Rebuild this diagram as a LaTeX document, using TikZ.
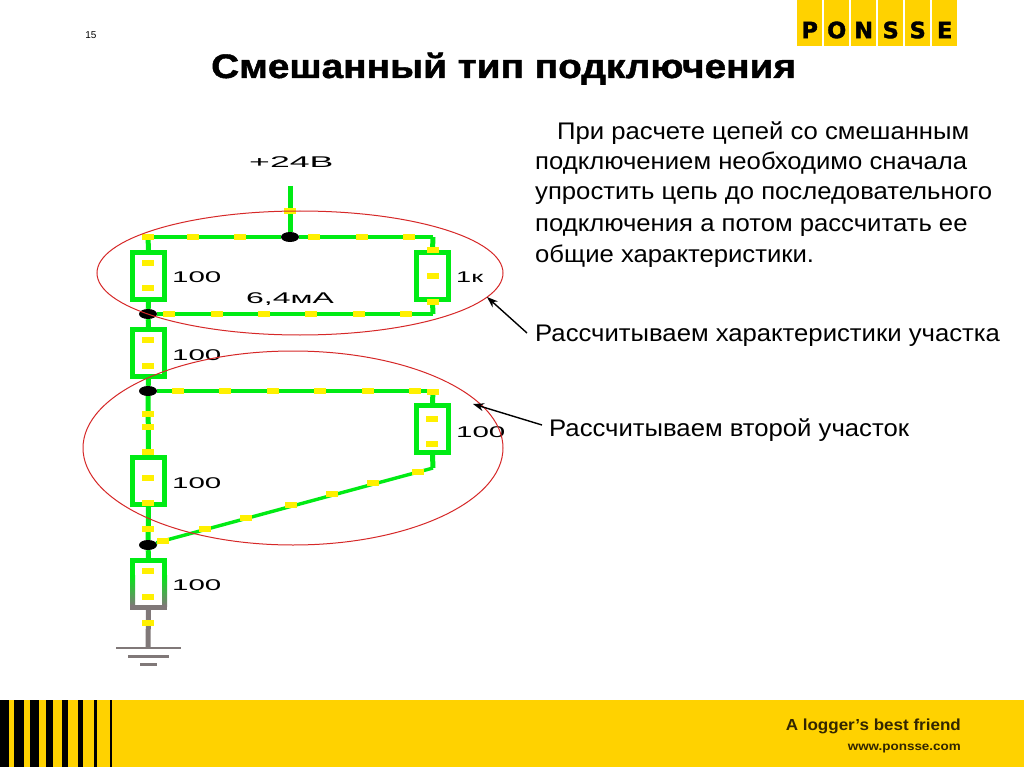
\documentclass[tikz,border=0pt]{standalone}
\usepackage{fontspec}
\usepackage{graphicx}
\setmainfont{Liberation Sans}
\newfontfamily\logofont[BoldFeatures={FakeBold=1.5}]{DejaVu Sans}
\newfontfamily\heavy[BoldFeatures={FakeBold=1.2}]{Liberation Sans}
\usetikzlibrary{arrows.meta,shapes.geometric}
\definecolor{wire}{RGB}{0,235,20}
\definecolor{tickc}{RGB}{255,240,0}
\definecolor{earth}{RGB}{128,120,120}
\definecolor{ponsse}{RGB}{255,210,0}
\definecolor{ring}{RGB}{214,40,40}
\definecolor{foot}{RGB}{50,38,0}
\newcommand{\widelabel}[2][1.9]{\scalebox{#1}[1]{\fontsize{15.5}{15.5}\selectfont #2}}
\newcommand{\bodyline}[1]{\scalebox{1.07}[1]{#1}}
\newcommand{\tickat}[1]{\foreach \px/\py in {#1} {\fill[tickc] (\px,\py) ++(-6,-2.8) rectangle ++(12,5.6);}}
\tikzset{
  res/.style={draw=wire,line width=5pt,minimum width=32pt,minimum height=47pt,inner sep=0pt,fill=white},
  wirew/.style={wire,line width=3.4pt},
  thick wire/.style={wire,line width=5pt},
  gnd/.style={earth,line width=2.5pt},
  junction/.style={fill=black,ellipse,minimum width=18pt,minimum height=10pt,inner sep=0pt},
  val/.style={anchor=base west,inner sep=0pt,text=black},
  body/.style={anchor=base west,inner sep=0pt,font=\fontsize{24}{28}\selectfont},
  ringe/.style={draw=ring,line width=1pt},
  note/.style={-{Stealth[length=11pt,width=8pt]},line width=1.4pt},
  logo/.style={fill=ponsse,minimum width=25pt,minimum height=46pt,inner sep=0pt,anchor=north west,text=black,font=\logofont\bfseries\fontsize{22.5}{22.5}\selectfont}
}
\begin{document}
\begin{tikzpicture}[x=1pt,y=-1pt]
\useasboundingbox (0,0) rectangle (1024,767);
\fill[white] (0,0) rectangle (1024,767);
% footer
\fill[ponsse] (0,700) rectangle (1024,767);
\foreach \a/\b in {0/9,14/23.7,30/38.5,46/52.5,62/67.5,78/82.5,94/97,110/111.5} {\fill[black] (\a,700) rectangle (\b,767);}
\node[anchor=base east,inner sep=0pt,text=foot,font=\bfseries\fontsize{16}{16}\selectfont] (slogan) at (961,730) {\scalebox{1.064}[1]{A logger's best friend}};
\node[anchor=base east,inner sep=0pt,text=foot,font=\bfseries\fontsize{12}{12}\selectfont] (site) at (961,750) {\scalebox{1.12}[1]{www.ponsse.com}};
% logo
\foreach \x/\l/\n in {797/P/la,824/O/lb,851/N/lc,878/S/ld,905/S/le,932/E/lf} {\node[logo] (\n) at (\x,0) {\raisebox{-15pt}[0pt][0pt]{\l}};}
% headings
\node[anchor=base,inner sep=0pt,font=\fontsize{10}{10}\selectfont] (num) at (91,39) {15};
\node[anchor=base west,inner sep=0pt,font=\heavy\bfseries\fontsize{34}{34}\selectfont] (title) at (211,78) {\scalebox{1.14}[1]{Смешанный тип подключения}};
% text
\node[body] (t1) at (557,139.5) {\bodyline{При расчете цепей со смешанным}};
\node[body] (t2) at (535,170) {\bodyline{подключением необходимо сначала}};
\node[body] (t3) at (535,200) {\bodyline{упростить цепь до последовательного}};
\node[body] (t4) at (535,232) {\bodyline{подключения а потом рассчитать ее}};
\node[body] (t5) at (535,262) {\bodyline{общие характеристики.}};
\node[body] (t6) at (535,341) {\bodyline{Рассчитываем характеристики участка}};
\node[body] (t7) at (549,436) {\bodyline{Рассчитываем второй участок}};
% circuit coordinates
\coordinate (in) at (290,186);
\coordinate (tl) at (148,237);
\coordinate (tr) at (433,237);
\coordinate (br) at (433,314);
\coordinate (mr) at (433,391);
\coordinate (dr) at (433,468);
\coordinate (gnd) at (148,648);
% resistors
\node[junction] (j1) at (290,237) {};
\node[junction] (j2) at (148,314) {};
\node[junction] (j3) at (148,391) {};
\node[junction] (j4) at (148,545) {};
\node[res] (r1) at (148.5,276) {};
\node[res] (r2) at (432.5,276) {};
\node[res] (r3) at (148.5,353) {};
\node[res] (r4) at (432.5,429) {};
\node[res] (r5) at (148.5,481) {};
\node[res] (r6) at (148.5,584) {};
% bottom resistor fades from green to grey
\shade[top color=wire,bottom color=earth] (130,575) rectangle (135,606);
\shade[top color=wire,bottom color=earth] (162,575) rectangle (167,606);
\fill[earth] (130,605) rectangle (167,610);
% wires
\draw[thick wire] (in) -- (j1);
\draw[wirew] (tl) -- (j1);
\draw[wirew] (j1) -- (tr);
\draw[wirew] (j2) -- (br);
\draw[wirew] (j3) -- (mr);
\draw[wirew] (dr) -- (j4);
\draw[thick wire] (tl) -- (r1.north);
\draw[thick wire] (tr) -- (r2.north);
\draw[thick wire] (r2.south) -- (br);
\draw[thick wire] (r1.south) -- (j2);
\draw[thick wire] (j2) -- (r3.north);
\draw[thick wire] (r3.south) -- (j3);
\draw[thick wire] (j3) -- (r5.north);
\draw[thick wire] (r5.south) -- (j4);
\draw[thick wire] (j4) -- (r6.north);
\draw[thick wire] (mr) -- (r4.north);
\draw[thick wire] (r4.south) -- (dr);
\draw[earth,line width=5pt] (r6.south) -- (gnd);
% ground
\draw[gnd] (116,648) -- (181,648);
\draw[earth,line width=3pt] (128,656) -- (169,656);
\draw[earth,line width=3pt] (140,664) -- (157,664);
% yellow current marks
\tickat{193/237,240/237,314/237,362/237,409/237,290/211,148/237,
 433/250,433/276,433/302,148/263,148/288,
 169/314,217/314,264/314,311/314,359/314,406/314,
 148/340,148/366,
 178/391,225/391,273/391,320/391,368/391,415/391,433/392,
 148/414,148/427,148/452,148/478,148/503,148/529,
 432/419,432/444,
 418/472,373/483,332/494,291/505,246/518,205/529,163/541,
 148/571,148/597,148/623}
% labels
\node[val] (v1) at (172,282) {\widelabel{100}};
\node[val] (v2) at (172,360) {\widelabel{100}};
\node[val] (v3) at (172,488) {\widelabel{100}};
\node[val] (v4) at (172,590) {\widelabel{100}};
\node[val] (v5) at (456,437) {\widelabel{100}};
\node[val] (v6) at (456,282) {\widelabel[1.75]{1к}};
\node[val] (v7) at (246,303) {\widelabel[2.06]{6,4мА}};
\node[val] (v8) at (249,167.5) {\widelabel[2.3]{+24В}};
% rings
\node[ringe,ellipse,minimum width=406pt,minimum height=124pt,inner sep=0pt] (e1) at (300,273) {};
\node[ringe,ellipse,minimum width=420pt,minimum height=194pt,inner sep=0pt] (e2) at (293,448) {};
% pointers
\coordinate (a1) at (527,333);
\coordinate (a1t) at (487,297);
\coordinate (a2) at (542,425);
\coordinate (a2t) at (473,404);
\draw[note] (a1) -- (a1t);
\draw[note] (a2) -- (a2t);
\end{tikzpicture}
\end{document}
